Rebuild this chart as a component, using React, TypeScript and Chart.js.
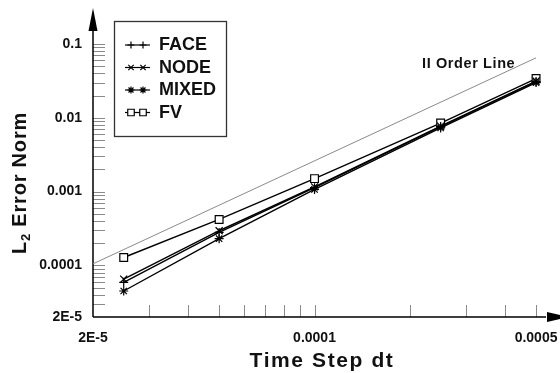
import React, { useEffect, useRef } from 'react';
import { Chart, registerables } from 'chart.js';
import { drawPoint } from 'chart.js/helpers';

Chart.register(...registerables);

// ---- data ----
const timeSteps = [2.5e-5, 5e-5, 1e-4, 2.5e-4, 5e-4];
const faceError = [5.9e-5, 2.8e-4, 1.13e-3, 7.6e-3, 0.031];
const nodeError = [6.5e-5, 2.95e-4, 1.16e-3, 7.7e-3, 0.0315];
const mixedError = [4.5e-5, 2.3e-4, 1.07e-3, 7.3e-3, 0.030];
const fvError = [1.28e-4, 4.2e-4, 1.5e-3, 8.5e-3, 0.034];
const orderLineX = [2e-5, 5e-4];
const orderLineY = [1.05e-4, 0.065];
const seriesNames = ['FACE', 'NODE', 'MIXED', 'FV'];
const seriesMarkers = ['cross', 'crossRot', 'star', 'rect'];
const orderLineLabel = 'II Order Line';

const xLabeledTicks = [2e-5, 1e-4, 5e-4];
const xTickText = ['2E-5', '0.0001', '0.0005'];
const yLabeledTicks = [2e-5, 1e-4, 1e-3, 1e-2, 1e-1];
const yTickText = ['2E-5', '0.0001', '0.001', '0.01', '0.1'];
const xTickValues = [2e-5, 3e-5, 4e-5, 5e-5, 6e-5, 7e-5, 8e-5, 9e-5, 1e-4, 2e-4, 3e-4, 4e-4, 5e-4];
const yTickValues = [
  2e-5, 3e-5, 4e-5, 5e-5, 6e-5, 7e-5, 8e-5, 9e-5,
  1e-4, 2e-4, 3e-4, 4e-4, 5e-4, 6e-4, 7e-4, 8e-4, 9e-4,
  1e-3, 2e-3, 3e-3, 4e-3, 5e-3, 6e-3, 7e-3, 8e-3, 9e-3,
  1e-2, 2e-2, 3e-2, 4e-2, 5e-2, 6e-2, 7e-2, 8e-2, 9e-2,
  1e-1,
];
const xTitle = 'Time Step dt';
const yTitleMain = 'L';
const yTitleSub = '2';
const yTitleRest = ' Error Norm';

const FONT = '"Liberation Sans", Arial, Helvetica, sans-serif';

function labelFor(v: number, vals: number[], texts: string[]) {
  for (let i = 0; i < vals.length; i++) {
    if (Math.abs(v / vals[i] - 1) < 1e-6) return texts[i];
  }
  return '';
}

const seriesData = [faceError, nodeError, mixedError, fvError];
const pointRadii = [4.5, 5, 4.5, 5.5];
const legendRadii = [3.5, 3.8, 3.5, 4.6];

const paperPlugin = {
  id: 'paperDecor',
  beforeDatasetsDraw(chart: any) {
    const { ctx, chartArea: a, scales } = chart;
    const xs = scales.x;
    const ys = scales.y;
    ctx.save();
    // inner tick marks
    ctx.strokeStyle = '#8a8a8a';
    ctx.lineWidth = 1;
    ctx.beginPath();
    for (const v of yTickValues) {
      if (v <= 2.0001e-5) continue;
      const py = Math.round(ys.getPixelForValue(v)) + 0.5;
      ctx.moveTo(a.left, py);
      ctx.lineTo(a.left + 12, py);
    }
    for (const v of xTickValues) {
      if (v <= 2.0001e-5) continue;
      const px = Math.round(xs.getPixelForValue(v)) + 0.5;
      ctx.moveTo(px, a.bottom);
      ctx.lineTo(px, a.bottom - 12);
    }
    ctx.stroke();
    // axis lines with arrows
    ctx.strokeStyle = '#000';
    ctx.fillStyle = '#000';
    ctx.lineWidth = 1.5;
    ctx.beginPath();
    ctx.moveTo(a.left, a.bottom);
    ctx.lineTo(a.left, a.top + 18);
    ctx.moveTo(a.left, a.bottom);
    ctx.lineTo(a.right - 14, a.bottom);
    ctx.stroke();
    ctx.beginPath();
    ctx.moveTo(a.left, a.top);
    ctx.lineTo(a.left - 4.5, a.top + 23);
    ctx.lineTo(a.left + 4.5, a.top + 23);
    ctx.closePath();
    ctx.fill();
    ctx.beginPath();
    ctx.moveTo(a.right + 9, a.bottom);
    ctx.lineTo(a.right - 13, a.bottom - 5);
    ctx.lineTo(a.right - 13, a.bottom + 5);
    ctx.closePath();
    ctx.fill();
    ctx.restore();
  },
  afterDraw(chart: any) {
    const { ctx, scales } = chart;
    const xs = scales.x;
    const ys = scales.y;
    ctx.save();

    // legend box
    const bx = 114.5, by = 21.5, bw = 112, bh = 115;
    ctx.strokeStyle = '#333';
    ctx.lineWidth = 1.3;
    ctx.strokeRect(bx, by, bw, bh);
    const rowY = [45, 67.5, 90, 112.5];
    for (let i = 0; i < seriesNames.length; i++) {
      const y = rowY[i];
      ctx.strokeStyle = '#000';
      ctx.lineWidth = 1.2;
      ctx.beginPath();
      ctx.moveTo(125, y);
      ctx.lineTo(150, y);
      ctx.stroke();
      ctx.fillStyle = '#fff';
      for (const mx of [131, 143]) {
        drawPoint(ctx, { pointStyle: seriesMarkers[i], radius: legendRadii[i], rotation: 0, borderWidth: 1.1 } as any, mx, y);
      }
      ctx.fillStyle = '#111';
      ctx.font = `bold 18px ${FONT}`;
      ctx.textAlign = 'left';
      ctx.textBaseline = 'middle';
      ctx.fillText(seriesNames[i], 159, y + 0.5);
    }

    // order line label
    const ex = xs.getPixelForValue(orderLineX[1]);
    const ey = ys.getPixelForValue(orderLineY[1]);
    ctx.fillStyle = '#111';
    ctx.font = `bold 14.5px ${FONT}`;
    (ctx as any).letterSpacing = '0.6px';
    ctx.textAlign = 'left';
    ctx.textBaseline = 'alphabetic';
    ctx.fillText(orderLineLabel, ex - 114, ey + 10);

    // x title
    ctx.font = `bold 21px ${FONT}`;
    (ctx as any).letterSpacing = '1.6px';
    const tw = ctx.measureText(xTitle).width;
    ctx.fillText(xTitle, 322 - tw / 2, 367);

    // y title (rotated, with subscript)
    ctx.translate(26, 183);
    ctx.rotate(-Math.PI / 2);
    (ctx as any).letterSpacing = '0.8px';
    ctx.font = `bold 20px ${FONT}`;
    const wL = ctx.measureText(yTitleMain).width;
    const wR = ctx.measureText(yTitleRest).width;
    ctx.font = `bold 13px ${FONT}`;
    const wS = ctx.measureText(yTitleSub).width;
    const total = wL + wS + wR;
    let cx = -total / 2;
    ctx.font = `bold 20px ${FONT}`;
    ctx.fillText(yTitleMain, cx, 0);
    cx += wL;
    ctx.font = `bold 13px ${FONT}`;
    ctx.fillText(yTitleSub, cx, 4);
    cx += wS;
    ctx.font = `bold 20px ${FONT}`;
    ctx.fillText(yTitleRest, cx, 0);
    ctx.restore();
  },
};

export default function App() {
  const ref = useRef<HTMLCanvasElement | null>(null);
  useEffect(() => {
    if (!ref.current) return;
    const datasets: any[] = seriesNames.map((name, i) => ({
      label: name,
      data: timeSteps.map((t, j) => ({ x: t, y: seriesData[i][j] })),
      borderColor: '#000',
      borderWidth: 1.4,
      pointStyle: seriesMarkers[i],
      pointRadius: pointRadii[i],
      pointBorderColor: '#000',
      pointBackgroundColor: '#fff',
      pointBorderWidth: 1.2,
      fill: false,
      tension: 0,
    }));
    datasets.push({
      label: orderLineLabel,
      data: orderLineX.map((t, j) => ({ x: t, y: orderLineY[j] })),
      borderColor: '#8a8a8a',
      borderWidth: 1,
      pointRadius: 0,
      fill: false,
    });
    const tickFont = { family: FONT, size: 14, weight: 'bold' as const };
    const chart = new Chart(ref.current, {
      type: 'line',
      data: { datasets },
      plugins: [paperPlugin],
      options: {
        animation: false,
        responsive: false,
        devicePixelRatio: 1,
        layout: { autoPadding: false, padding: { top: 8, right: 0, left: 0, bottom: 0 } },
        plugins: { legend: { display: false }, tooltip: { enabled: false } },
        scales: {
          x: {
            type: 'logarithmic',
            position: 'bottom',
            min: 2e-5,
            max: 5.95e-4,
            grid: { display: false, drawTicks: false },
            border: { display: false },
            ticks: {
              autoSkip: false,
              maxRotation: 0,
              minRotation: 0,
              padding: 13,
              color: '#111',
              font: tickFont,
              callback: (v: any) => labelFor(Number(v), xLabeledTicks, xTickText),
            },
            afterBuildTicks: (s: any) => {
              s.ticks = xTickValues.map((v) => ({ value: v }));
            },
            afterFit: (s: any) => {
              s.height = 56;
              s.paddingLeft = 0;
              s.paddingRight = 0;
              s.paddingTop = 0;
              s.paddingBottom = 0;
            },
          },
          y: {
            type: 'logarithmic',
            position: 'left',
            min: 2e-5,
            max: 0.3076,
            grid: { display: false, drawTicks: false },
            border: { display: false },
            ticks: {
              autoSkip: false,
              padding: 11,
              color: '#111',
              font: tickFont,
              callback: (v: any) => labelFor(Number(v), yLabeledTicks, yTickText),
            },
            afterBuildTicks: (s: any) => {
              s.ticks = yTickValues.map((v) => ({ value: v }));
            },
            afterFit: (s: any) => {
              s.width = 93;
              s.paddingLeft = 0;
              s.paddingRight = 0;
              s.paddingTop = 0;
              s.paddingBottom = 0;
            },
          },
        },
      } as any,
    });
    return () => chart.destroy();
  }, []);
  return (
    <div style={{ position: 'fixed', left: 0, top: 0, width: 560, height: 373, background: '#fff' }}>
      <canvas ref={ref} width={560} height={373} style={{ display: 'block' }} />
    </div>
  );
}
